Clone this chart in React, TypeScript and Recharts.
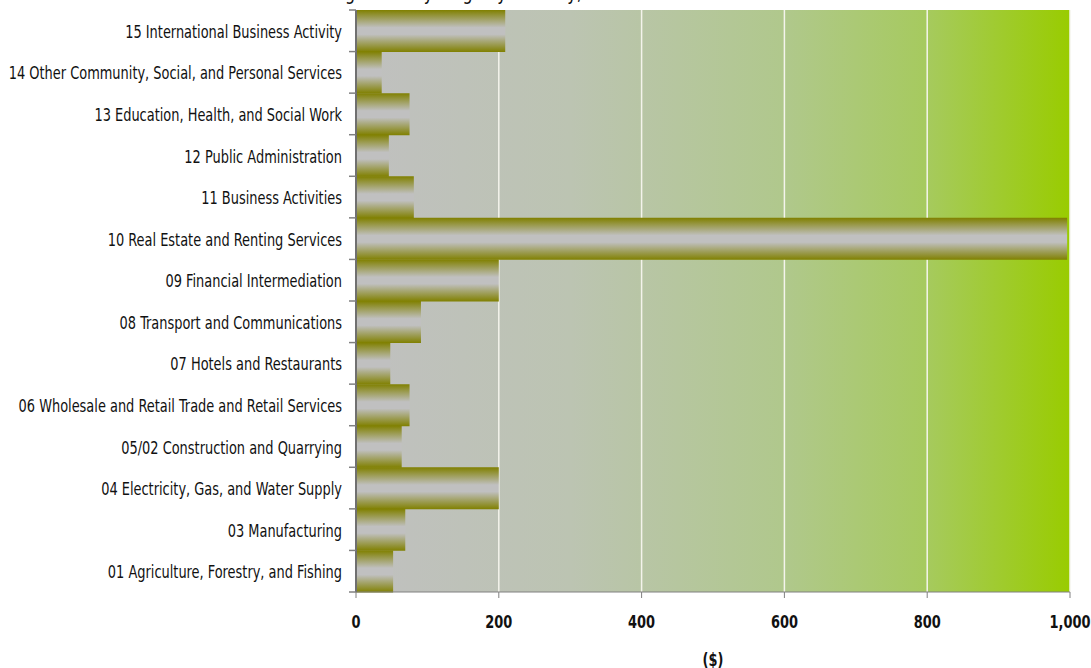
import React from 'react';
import {
  BarChart,
  Bar,
  XAxis,
  YAxis,
  CartesianGrid,
} from 'recharts';

const industries = [
  '15 International Business Activity',
  '14 Other Community, Social, and Personal Services',
  '13 Education, Health, and Social Work',
  '12 Public Administration',
  '11 Business Activities',
  '10 Real Estate and Renting Services',
  '09 Financial Intermediation',
  '08 Transport and Communications',
  '07 Hotels and Restaurants',
  '06 Wholesale and Retail Trade and Retail Services',
  '05/02 Construction and Quarrying',
  '04 Electricity, Gas, and Water Supply',
  '03 Manufacturing',
  '01 Agriculture, Forestry, and Fishing',
];

const wages = [209, 36, 75, 46, 81, 996, 200, 91, 48, 75, 64, 200, 69, 52];

const xTicks = [0, 200, 400, 600, 800, 1000];

const FONT = '"DejaVu Sans Condensed", "DejaVu Sans", sans-serif';
const SQUEEZE = 0.8;
const TOP = 10;
const BOTTOM = 76;
const HEIGHT = 668;
const BAND = (HEIGHT - TOP - BOTTOM) / industries.length;

const chartData = industries.map((name, i) => ({ name, value: wages[i] }));

// condensed look: squeeze text horizontally around its anchor
const Narrow = ({ x, y, anchor, size, weight, children }: any) => (
  <text
    transform={`translate(${x},${y}) scale(${SQUEEZE},1)`}
    x={0}
    y={0}
    textAnchor={anchor}
    fill="#111"
    fontSize={size}
    fontWeight={weight}
    fontFamily={FONT}
  >
    {children}
  </text>
);

const CategoryTick = (props: any) => {
  const { x, y, payload, index } = props;
  const last = index === industries.length - 1;
  return (
    <g>
      <line x1={x + 1} x2={x + 8} y1={y - BAND / 2} y2={y - BAND / 2} stroke="#808080" strokeWidth={1.5} />
      {last && (
        <line x1={x + 1} x2={x + 8} y1={y + BAND / 2} y2={y + BAND / 2} stroke="#808080" strokeWidth={1.5} />
      )}
      <Narrow x={x - 6} y={y + 7} anchor="end" size={18}>
        {payload.value}
      </Narrow>
    </g>
  );
};

const ValueTick = (props: any) => {
  const { x, y, payload } = props;
  return (
    <Narrow x={x} y={y + 28} anchor="middle" size={18} weight="bold">
      {Number(payload.value).toLocaleString('en-US')}
    </Narrow>
  );
};

const App: React.FC = () => {
  return (
    <div style={{ position: 'absolute', left: 0, top: 0, width: 1091, height: HEIGHT, background: '#fff', overflow: 'hidden' }}>
      <svg width={1091} height={12} style={{ position: 'absolute', left: 0, top: 0 }}>
        <Narrow x={627} y={0} anchor="end" size={22}>
          Average Monthly Wage by Industry, 1999
        </Narrow>
      </svg>
      <BarChart
        width={1091}
        height={HEIGHT}
        data={chartData}
        layout="vertical"
        barCategoryGap={0}
        margin={{ top: TOP, right: 21, left: 0, bottom: 0 }}
      >
        <defs>
          <linearGradient id="plotBg" x1="0" y1="0" x2="1" y2="0">
            <stop offset="0%" stopColor="#c0c0c0" />
            <stop offset="30%" stopColor="#bcc4b2" />
            <stop offset="60%" stopColor="#b0c88c" />
            <stop offset="80%" stopColor="#a6ca5e" />
            <stop offset="100%" stopColor="#99cc00" />
          </linearGradient>
          <linearGradient id="barFill" x1="0" y1="0" x2="0" y2="1">
            <stop offset="0%" stopColor="#808000" />
            <stop offset="42%" stopColor="#c0c0c0" />
            <stop offset="58%" stopColor="#c0c0c0" />
            <stop offset="100%" stopColor="#808000" />
          </linearGradient>
        </defs>
        <CartesianGrid horizontal={false} stroke="#f4f4ec" strokeWidth={1.5} fill="url(#plotBg)" />
        <XAxis
          type="number"
          domain={[0, 1000]}
          ticks={xTicks}
          height={BOTTOM}
          tickSize={6}
          stroke="#808080"
          tick={<ValueTick />}
          label={({ viewBox }: any) => (
            <Narrow x={viewBox.x + viewBox.width / 2} y={viewBox.y + viewBox.height - 2} anchor="middle" size={18} weight="bold">
              ($)
            </Narrow>
          )}
        />
        <XAxis
          xAxisId="top"
          orientation="top"
          type="number"
          domain={[0, 1000]}
          height={0}
          tick={false}
          tickLine={false}
          stroke="#909090"
        />
        <YAxis
          type="category"
          dataKey="name"
          width={356}
          tickLine={false}
          interval={0}
          stroke="#707070"
          strokeWidth={2}
          tick={<CategoryTick />}
        />
        <YAxis
          yAxisId="right"
          orientation="right"
          type="category"
          dataKey="name"
          width={0}
          tick={false}
          tickLine={false}
          stroke="#8a8a8a"
          strokeWidth={2}
        />
        <Bar dataKey="value" fill="url(#barFill)" isAnimationActive={false} />
      </BarChart>
    </div>
  );
};

export default App;
